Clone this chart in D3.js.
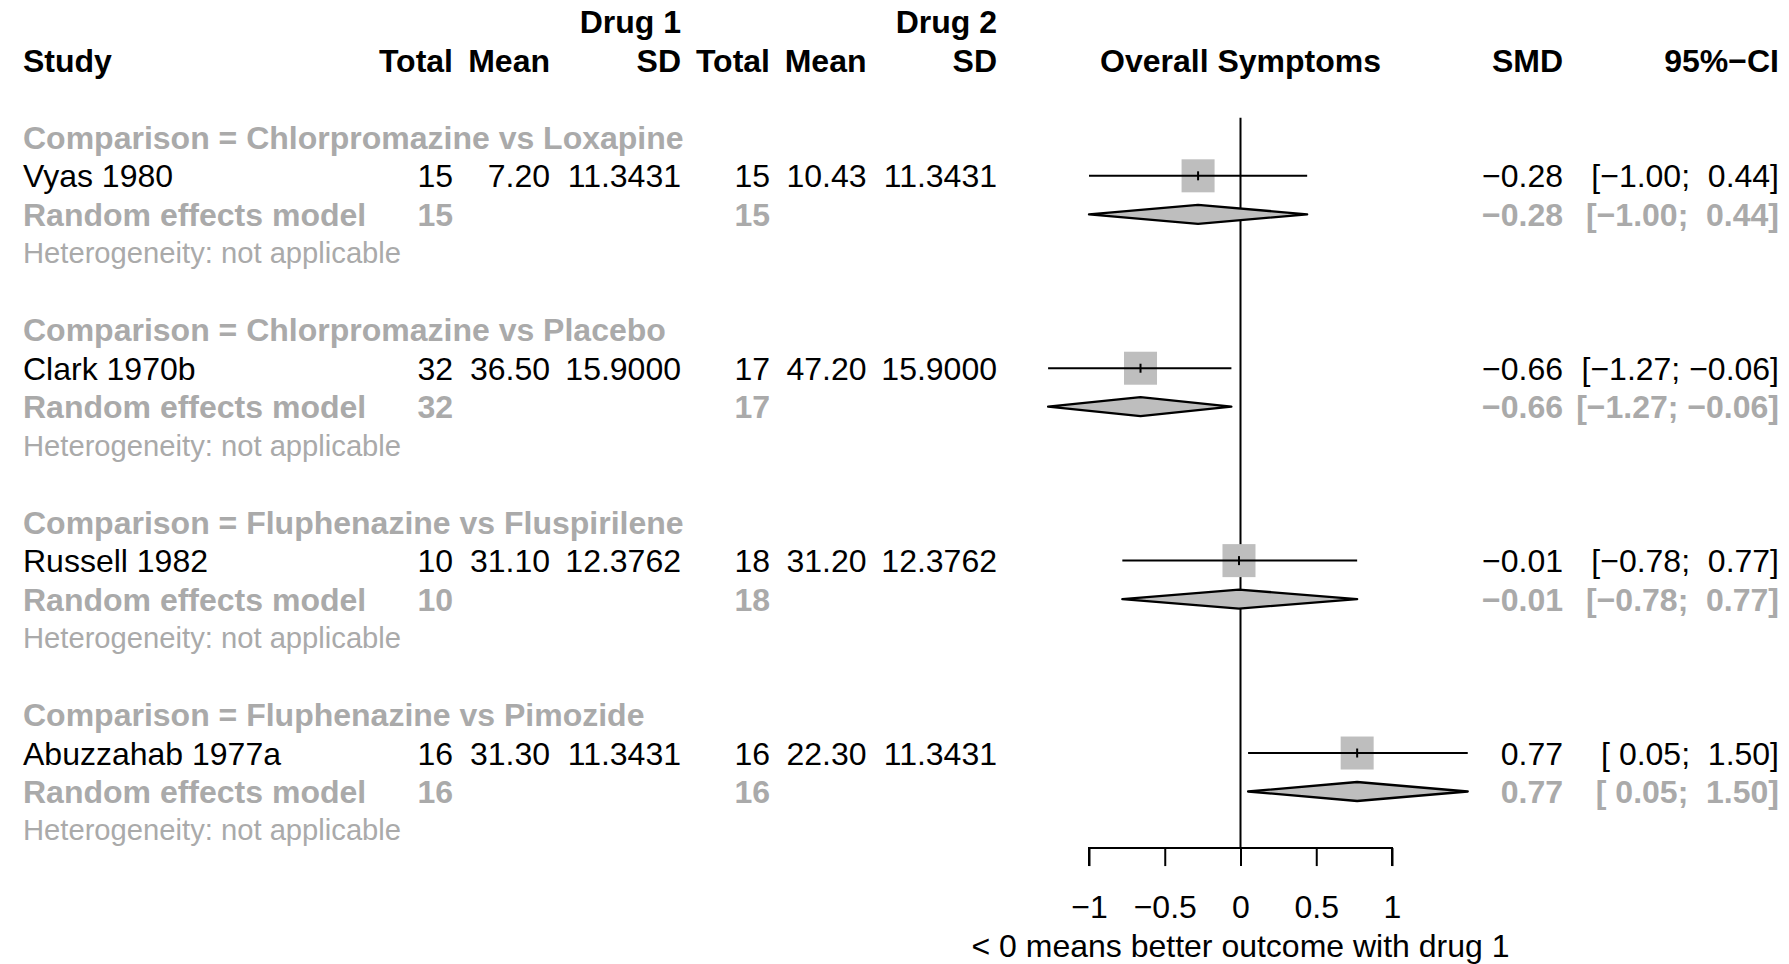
<!DOCTYPE html>
<html>
<head>
<meta charset="utf-8">
<script src="https://cdn.jsdelivr.net/npm/d3@7"></script>
<style>
  html, body { margin: 0; padding: 0; background: #ffffff; }
  svg text { font-family: "Liberation Sans", Arial, Helvetica, sans-serif; white-space: pre; }
</style>
</head>
<body>
<svg id="chart" width="1789" height="964"></svg>
<script>
// ---- data ----
const comparisons = [
  "Comparison = Chlorpromazine vs Loxapine",
  "Comparison = Chlorpromazine vs Placebo",
  "Comparison = Fluphenazine vs Fluspirilene",
  "Comparison = Fluphenazine vs Pimozide"
];
const studies = ["Vyas 1980", "Clark 1970b", "Russell 1982", "Abuzzahab 1977a"];
const total1 = [15, 32, 10, 16];
const mean1 = [7.20, 36.50, 31.10, 31.30];
const sd1 = [11.3431, 15.9000, 12.3762, 11.3431];
const total2 = [15, 17, 18, 16];
const mean2 = [10.43, 47.20, 31.20, 22.30];
const sd2 = [11.3431, 15.9000, 12.3762, 11.3431];
const smd = [-0.28, -0.66, -0.01, 0.77];
const ciLower = [-1.00, -1.27, -0.78, 0.05];
const ciUpper = [0.44, -0.06, 0.77, 1.50];
const tickValues = [-1, -0.5, 0, 0.5, 1];
const hetLabel = "Heterogeneity: not applicable";
const modelLabel = "Random effects model";
const xAxisLabel = "< 0 means better outcome with drug 1";

// ---- layout ----
const svg = d3.select("#chart");
const FS = 32, FS_HET = 29.2;
const GRAY = "#aaaaaa";
const LW = 2;
const row = d3.scaleLinear().domain([0, 24]).range([21.9, 21.9 + 24 * 38.48]);
const x = d3.scaleLinear().domain([-1, 1]).range([1089, 1392]);
const col = { study: 23, t1: 453, m1: 550, s1: 681, t2: 770, m2: 866.5, s2: 997, smd: 1563, ci: 1779 };
const fmtNum = v => (v < 0 ? "\u2212" : "") + Math.abs(v).toFixed(2);
const fmtCI = (lo, hi) => {
  const f = v => (v < 0 ? "\u2212" : " ") + Math.abs(v).toFixed(2);
  return "[" + f(lo) + "; " + f(hi) + "]";
};
const fmtTick = v => (v < 0 ? "\u2212" : "") + Math.abs(v);

function txt(str, xPos, r, opts = {}) {
  return svg.append("text")
    .attr("x", xPos)
    .attr("y", row(r) + (opts.dy !== undefined ? opts.dy : 11.5))
    .attr("text-anchor", opts.anchor || "start")
    .attr("font-size", opts.size || FS)
    .attr("font-weight", opts.bold ? "bold" : "normal")
    .attr("fill", opts.color || "#000")
    .text(str);
}

// headers
txt("Drug 1", col.s1, 0, { anchor: "end", bold: true });
txt("Drug 2", col.s2, 0, { anchor: "end", bold: true });
txt("Study", col.study, 1, { bold: true });
[["Total", col.t1], ["Mean", col.m1], ["SD", col.s1], ["Total", col.t2], ["Mean", col.m2], ["SD", col.s2]]
  .forEach(([s, c]) => txt(s, c, 1, { anchor: "end", bold: true }));
txt("Overall Symptoms", x(0), 1, { anchor: "middle", bold: true });
txt("SMD", col.smd, 1, { anchor: "end", bold: true });
txt("95%\u2212CI", col.ci, 1, { anchor: "end", bold: true });

// zero line (behind marks)
svg.append("line")
  .attr("x1", x(0)).attr("x2", x(0))
  .attr("y1", row(2.49)).attr("y2", row(21.47))
  .attr("stroke", "#000").attr("stroke-width", LW);

studies.forEach((s, i) => {
  const base = 3 + i * 5;
  const rS = base + 1, rM = base + 2, rH = base + 3;
  // left text
  txt(comparisons[i], col.study, base, { bold: true, color: GRAY });
  txt(s, col.study, rS);
  txt(String(total1[i]), col.t1, rS, { anchor: "end" });
  txt(mean1[i].toFixed(2), col.m1, rS, { anchor: "end" });
  txt(sd1[i].toFixed(4), col.s1, rS, { anchor: "end" });
  txt(String(total2[i]), col.t2, rS, { anchor: "end" });
  txt(mean2[i].toFixed(2), col.m2, rS, { anchor: "end" });
  txt(sd2[i].toFixed(4), col.s2, rS, { anchor: "end" });
  txt(modelLabel, col.study, rM, { bold: true, color: GRAY });
  txt(String(total1[i]), col.t1, rM, { anchor: "end", bold: true, color: GRAY });
  txt(String(total2[i]), col.t2, rM, { anchor: "end", bold: true, color: GRAY });
  txt(hetLabel, col.study, rH, { size: FS_HET, color: GRAY, dy: 10.5 });
  // right text
  txt(fmtNum(smd[i]), col.smd, rS, { anchor: "end" });
  txt(fmtCI(ciLower[i], ciUpper[i]), col.ci, rS, { anchor: "end" });
  txt(fmtNum(smd[i]), col.smd, rM, { anchor: "end", bold: true, color: GRAY });
  txt(fmtCI(ciLower[i], ciUpper[i]), col.ci, rM, { anchor: "end", bold: true, color: GRAY });

  // square
  const sq = 33;
  svg.append("rect")
    .attr("x", x(smd[i]) - sq / 2).attr("y", row(rS) - sq / 2)
    .attr("width", sq).attr("height", sq)
    .attr("fill", "#bebebe");
  // CI line
  svg.append("line")
    .attr("x1", x(ciLower[i])).attr("x2", x(ciUpper[i]))
    .attr("y1", row(rS)).attr("y2", row(rS))
    .attr("stroke", "#000").attr("stroke-width", LW);
  // center tick
  svg.append("line")
    .attr("x1", x(smd[i])).attr("x2", x(smd[i]))
    .attr("y1", row(rS) - 4.5).attr("y2", row(rS) + 4.5)
    .attr("stroke", "#000").attr("stroke-width", LW);
  // diamond
  const yM = row(rM), h = 9.5;
  svg.append("polygon")
    .attr("points", [[x(ciLower[i]), yM], [x(smd[i]), yM - h], [x(ciUpper[i]), yM], [x(smd[i]), yM + h]].map(p => p.join(",")).join(" "))
    .attr("fill", "#bebebe").attr("stroke", "#000").attr("stroke-width", LW + 0.3)
    .attr("stroke-linejoin", "round");
});

// x axis
const axisY = row(21.47);
const axis = d3.axisBottom(x).tickValues(tickValues).tickSize(18).tickPadding(28).tickFormat(fmtTick);
const gAxis = svg.append("g").attr("transform", `translate(0,${axisY})`).call(axis);
gAxis.select(".domain").attr("d", `M${x(-1)},18V0H${x(1)}V18`).attr("stroke", "#000").attr("stroke-width", LW);
gAxis.selectAll(".tick line").attr("stroke", "#000").attr("stroke-width", LW);
gAxis.selectAll(".tick text")
  .attr("font-size", FS).attr("fill", "#000")
  .attr("font-family", "'Liberation Sans', Arial, sans-serif")
  .attr("dy", null).attr("y", row(23) + 11.5 - axisY);
txt(xAxisLabel, x(0), 24, { anchor: "middle" });
</script>
</body>
</html>
